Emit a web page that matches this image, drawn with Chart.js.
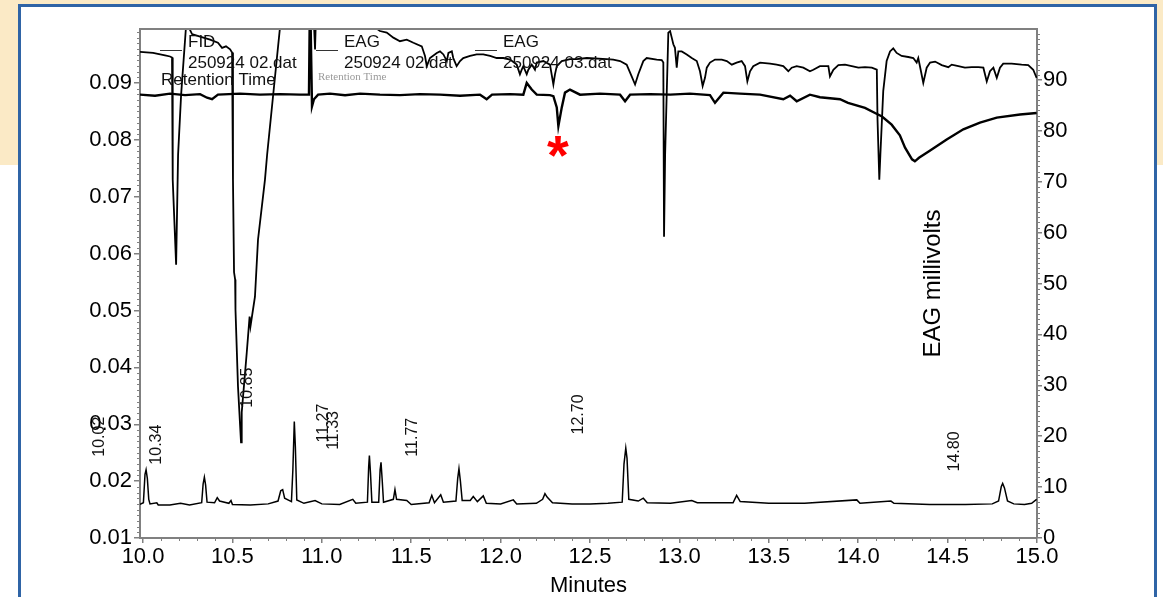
<!DOCTYPE html>
<html>
<head>
<meta charset="utf-8">
<script src="https://cdn.jsdelivr.net/npm/chart.js@4.4.1/dist/chart.umd.min.js"></script>
<style>
  html, body { margin: 0; padding: 0; width: 1163px; height: 597px; overflow: hidden; background: #fff; }
  #fondo { position: absolute; left: 0; top: 0; width: 1163px; height: 165px; background: #fbeac6; }
  #marco { position: absolute; left: 18px; top: 4px; width: 1133px; height: 700px; background: #fff; border: 3px solid #2f64a6; }
  #grafico { position: absolute; left: 0; top: 0; }
</style>
</head>
<body>
<div id="fondo"></div>
<div id="marco"></div>
<canvas id="grafico" width="1163" height="597"></canvas>
<script>
// FID (eje izquierdo)
const fidTime = [9.983, 10.002, 10.011, 10.017, 10.024, 10.032, 10.039, 10.077, 10.085, 10.15, 10.21, 10.26,
  10.328, 10.336, 10.343, 10.350, 10.358, 10.40, 10.415, 10.428, 10.48, 10.492, 10.50, 10.60, 10.70,
  10.755, 10.770, 10.781, 10.792, 10.830, 10.838, 10.846, 10.852, 10.860, 10.90, 10.962, 11.00, 11.10,
  11.173, 11.19, 11.255, 11.262, 11.266, 11.272, 11.280, 11.318, 11.326, 11.331, 11.337, 11.345, 11.40,
  11.409, 11.418, 11.475, 11.50, 11.60, 11.615, 11.63, 11.665, 11.68, 11.75, 11.760, 11.767, 11.775,
  11.785, 11.83, 11.847, 11.87, 11.903, 11.92, 12.00, 12.071, 12.09, 12.20, 12.235, 12.248, 12.26, 12.29,
  12.40, 12.50, 12.60, 12.680, 12.690, 12.700, 12.707, 12.717, 12.77, 12.798, 12.82, 12.95, 13.069, 13.10,
  13.30, 13.320, 13.34, 13.50, 13.70, 13.992, 14.01, 14.183, 14.20, 14.40, 14.60, 14.75, 14.785, 14.800,
  14.808, 14.818, 14.835, 14.87, 14.93, 14.97, 14.998];
const fidSignal = [0.0159, 0.0162, 0.0212, 0.0220, 0.0205, 0.0168, 0.0160, 0.0162, 0.0158, 0.0158, 0.0161, 0.0158,
  0.0162, 0.0195, 0.0207, 0.0193, 0.0163, 0.0162, 0.0171, 0.0165, 0.0161, 0.0166, 0.0159, 0.0158, 0.0160,
  0.0165, 0.0183, 0.0185, 0.0170, 0.0164, 0.0220, 0.0305, 0.0260, 0.0167, 0.0161, 0.0166, 0.0160, 0.0159,
  0.0168, 0.0161, 0.0163, 0.0225, 0.0245, 0.0215, 0.0163, 0.0163, 0.0220, 0.0233, 0.0205, 0.0163, 0.0168,
  0.0185, 0.0168, 0.0166, 0.0159, 0.0162, 0.0175, 0.0162, 0.0176, 0.0163, 0.0165, 0.0205, 0.0222, 0.0200,
  0.0166, 0.0166, 0.0173, 0.0164, 0.0174, 0.0161, 0.0160, 0.0167, 0.0160, 0.0161, 0.0168, 0.0178, 0.0172, 0.0162,
  0.0160, 0.0160, 0.0161, 0.0163, 0.0230, 0.0258, 0.0240, 0.0168, 0.0165, 0.0170, 0.0162, 0.0161, 0.0166, 0.0162,
  0.0162, 0.0175, 0.0164, 0.0161, 0.0161, 0.0167, 0.0161, 0.0165, 0.0161, 0.0159, 0.0159, 0.0160, 0.0165, 0.0190,
  0.0196, 0.0188, 0.0165, 0.0160, 0.0159, 0.0161, 0.0168];

// EAG 250924 02.dat (eje derecho)
const eag02Time = [9.983, 10.056, 10.123, 10.151, 10.162, 10.166, 10.185, 10.196, 10.213, 10.240, 10.252, 10.274,
  10.319, 10.375, 10.419, 10.442, 10.464, 10.487, 10.498, 10.503, 10.509, 10.515, 10.516, 10.518, 10.531,
  10.548, 10.552, 10.580, 10.596, 10.601, 10.626, 10.643, 10.682, 10.694, 10.766, 10.79, 10.95, 10.962,
  10.97, 11.29, 11.298, 11.325, 11.363, 11.400, 11.437, 11.475, 11.512, 11.559, 11.577, 11.587, 11.605,
  11.643, 11.661, 11.680, 11.699, 11.708, 11.727, 11.735, 11.754, 11.773, 11.791, 11.829, 11.866, 11.903,
  11.941, 11.978, 12.015, 12.053, 12.090, 12.108, 12.118, 12.127, 12.146, 12.155, 12.174, 12.192, 12.202,
  12.239, 12.276, 12.295, 12.304, 12.314, 12.342, 12.388, 12.426, 12.482, 12.593, 12.630, 12.668, 12.705,
  12.733, 12.752, 12.770, 12.798, 12.817, 12.873, 12.901, 12.910, 12.914, 12.920, 12.938, 12.948, 12.957,
  12.966, 12.975, 12.985, 12.990, 12.994, 13.013, 13.041, 13.069, 13.097, 13.115, 13.130, 13.143, 13.153,
  13.171, 13.199, 13.237, 13.265, 13.293, 13.320, 13.348, 13.367, 13.380, 13.395, 13.413, 13.451, 13.507,
  13.544, 13.581, 13.609, 13.628, 13.656, 13.693, 13.730, 13.749, 13.786, 13.833, 13.842, 13.861, 13.889,
  13.926, 13.964, 14.001, 14.038, 14.076, 14.104, 14.108, 14.118, 14.124, 14.140, 14.159, 14.178, 14.196,
  14.215, 14.243, 14.280, 14.308, 14.327, 14.336, 14.351, 14.364, 14.383, 14.402, 14.430, 14.467, 14.504,
  14.523, 14.560, 14.597, 14.635, 14.672, 14.700, 14.719, 14.737, 14.756, 14.775, 14.793, 14.811, 14.858,
  14.914, 14.951, 14.979, 14.998];
const eag02Value = [95.5, 95.3, 94.8, 94.6, 94.4, 70.4, 53.7, 75.3, 87.1, 100.3, 100.6, 99.0,
  98.5, 97.9, 97.3, 96.3, 96.6, 96.0, 95.4, 70.4, 52.2, 50.8, 45.5, 44.9, 29.8,
  18.8, 24.7, 36.4, 43.5, 41.6, 47.4, 58.6, 70.4, 75.3, 100.3, 106, 106, 96.0,
  106, 106, 100.3, 99.6, 99.3, 98.3, 97.6, 97.9, 97.3, 96.6, 94.7, 92.7, 94.3,
  95.3, 95.6, 95.0, 93.7, 95.3, 95.6, 94.3, 92.7, 93.7, 94.3, 94.7, 95.0, 95.0,
  94.7, 94.3, 94.3, 94.0, 93.0, 91.1, 92.0, 92.7, 91.1, 92.0, 93.0, 92.0, 93.4,
  93.7, 93.0, 89.1, 91.1, 92.7, 93.7, 94.1, 94.1, 94.3, 94.1, 94.0, 93.7, 93.0,
  90.7, 89.1, 91.1, 93.7, 94.3, 94.0, 93.9, 93.4, 59.2, 75.3, 99.3, 99.6, 98.3,
  97.0, 96.3, 92.4, 94.3, 95.6, 95.6, 95.0, 94.3, 93.7, 91.7, 88.8, 90.4, 92.4,
  93.4, 94.0, 94.0, 93.7, 93.0, 93.4, 93.7, 92.7, 89.7, 91.7, 92.7, 93.4, 93.2,
  93.0, 92.7, 91.7, 92.4, 92.7, 92.4, 91.7, 92.0, 92.7, 92.7, 90.7, 92.0, 92.9,
  93.0, 92.7, 92.4, 92.5, 92.4, 92.0, 82.2, 70.4, 75.3, 87.8, 93.7, 95.6, 96.2,
  95.3, 94.7, 94.5, 94.3, 93.4, 94.3, 91.7, 89.4, 92.4, 93.4, 93.6, 92.9, 92.5,
  93.0, 92.7, 92.4, 92.5, 92.5, 92.4, 89.7, 91.7, 92.4, 90.4, 92.4, 93.2, 93.2,
  93.0, 92.9, 92.0, 90.4];

// EAG 250924 03.dat (eje derecho)
const eag03Time = [9.983, 10.067, 10.151, 10.235, 10.319, 10.358, 10.386, 10.419, 10.543, 10.654, 10.766, 10.878,
  10.928, 10.934, 10.945, 10.956, 10.979, 11.046, 11.130, 11.214, 11.325, 11.437, 11.549, 11.661, 11.773,
  11.885, 11.922, 11.952, 12.053, 12.127, 12.146, 12.174, 12.202, 12.276, 12.295, 12.314, 12.323, 12.342,
  12.360, 12.388, 12.444, 12.556, 12.668, 12.696, 12.724, 12.836, 12.948, 13.059, 13.171, 13.199, 13.246,
  13.339, 13.451, 13.581, 13.619, 13.656, 13.730, 13.786, 13.898, 13.943, 14.038, 14.094, 14.133, 14.187,
  14.233, 14.262, 14.301, 14.317, 14.340, 14.396, 14.495, 14.588, 14.681, 14.775, 14.905, 14.998];
const eag03Value = [87.1, 86.9, 87.3, 87.0, 87.2, 86.5, 86.2, 87.1, 87.3, 87.1, 87.2, 87.1,
  87.1, 108, 84.8, 86.2, 87.1, 87.3, 87.0, 87.3, 87.1, 87.0, 87.2, 87.1, 86.9,
  87.1, 86.2, 87.1, 87.2, 87.1, 89.4, 88.1, 87.1, 87.0, 86.8, 84.6, 80.9, 84.6,
  87.5, 88.1, 87.1, 87.3, 87.1, 85.8, 87.1, 87.2, 87.1, 87.3, 87.0, 85.5, 87.5,
  87.3, 87.1, 86.2, 86.9, 85.8, 87.1, 86.6, 86.2, 85.5, 84.5, 83.5, 82.8, 81.2,
  79.1, 76.7, 74.4, 74.0, 74.7, 76.0, 78.3, 80.3, 81.6, 82.6, 83.2, 83.5];

// ejes
const xTicks = [10.0, 10.5, 11.0, 11.5, 12.0, 12.5, 13.0, 13.5, 14.0, 14.5, 15.0];
const leftTicks = [0.01, 0.02, 0.03, 0.04, 0.05, 0.06, 0.07, 0.08, 0.09];
const rightTicks = [0, 10, 20, 30, 40, 50, 60, 70, 80, 90];

// etiquetas de picos (tiempo y nivel de la base del texto, eje izquierdo)
const peakLabels = ['10.02', '10.34', '10.85', '11.27', '11.33', '11.77', '12.70', '14.80'];
const peakLevels = [0.0243, 0.0229, 0.0329, 0.0268, 0.0255, 0.0243, 0.0282, 0.0217];

// leyenda
const legendNames = ['FID', 'EAG', 'EAG'];
const legendFiles = ['250924 02.dat', '250924 02.dat', '250924 03.dat'];
const legendNotes = ['Retention Time', 'Retention Time', ''];

// asterisco (eje derecho)
const markTimes = [12.32];
const markValues = [77.8];

const fuente = '"Liberation Sans", Arial, sans-serif';
Chart.defaults.font.family = fuente;

const toPoints = (xs, ys) => xs.map((t, i) => ({ x: t, y: ys[i] }));

const extras = {
    id: 'extras',
    afterDraw(chart) {
        const { ctx, chartArea: area, scales } = chart;
        const x = scales.x, yl = scales.y, yr = scales.y2;
        ctx.save();

        // borde superior
        ctx.strokeStyle = '#808080';
        ctx.lineWidth = 2;
        ctx.beginPath();
        ctx.moveTo(area.left - 1, area.top);
        ctx.lineTo(area.right + 1, area.top);
        ctx.stroke();

        // marcas menores
        ctx.lineWidth = 1;
        ctx.beginPath();
        for (let i = 1; i < 50; i++) {
            if (i % 5 === 0) continue;
            const px = Math.round(x.getPixelForValue(10 + i / 10)) + 0.5;
            ctx.moveTo(px, area.bottom);
            ctx.lineTo(px, area.bottom + 3);
        }
        for (let i = 11; i < 100; i++) {
            if (i % 10 === 0) continue;
            const py = Math.round(yl.getPixelForValue(i / 1000)) + 0.5;
            ctx.moveTo(area.left - 3, py);
            ctx.lineTo(area.left, py);
        }
        for (let i = 1; i < 100; i++) {
            if (i % 10 === 0) continue;
            const py = Math.round(yr.getPixelForValue(i)) + 0.5;
            ctx.moveTo(area.right, py);
            ctx.lineTo(area.right + 3, py);
        }
        ctx.stroke();

        // leyenda
        const inicio = [20, 176, 335];
        legendNames.forEach((nombre, i) => {
            const lx = area.left + inicio[i];
            ctx.strokeStyle = '#333';
            ctx.lineWidth = 1;
            ctx.beginPath();
            ctx.moveTo(lx, area.top + 21.5);
            ctx.lineTo(lx + 22, area.top + 21.5);
            ctx.stroke();
            ctx.fillStyle = '#111';
            ctx.textAlign = 'left';
            ctx.textBaseline = 'alphabetic';
            ctx.font = '17px ' + fuente;
            ctx.fillText(nombre, lx + 28, area.top + 18);
            ctx.fillText(legendFiles[i], lx + 28, area.top + 39);
            if (legendNotes[i]) {
                if (i === 0) {
                    ctx.fillText(legendNotes[i], lx + 1, area.top + 56);
                } else {
                    ctx.fillStyle = '#999';
                    ctx.font = '11px "Liberation Serif", "Times New Roman", serif';
                    ctx.fillText(legendNotes[i], lx + 2, area.top + 51);
                }
            }
        });

        // etiquetas de picos
        ctx.fillStyle = '#111';
        ctx.font = '16px ' + fuente;
        ctx.textAlign = 'left';
        ctx.textBaseline = 'middle';
        peakLabels.forEach((txt, i) => {
            const px = x.getPixelForValue(parseFloat(txt)) - 47;
            const py = yl.getPixelForValue(peakLevels[i]);
            ctx.save();
            ctx.translate(px, py);
            ctx.rotate(-Math.PI / 2);
            ctx.fillText(txt, 0, 0);
            ctx.restore();
        });

        // titulo del eje derecho dentro del area
        ctx.save();
        ctx.translate(area.right - 104, (area.top + area.bottom) / 2);
        ctx.rotate(-Math.PI / 2);
        ctx.font = '24px ' + fuente;
        ctx.fillStyle = '#000';
        ctx.textAlign = 'center';
        ctx.textBaseline = 'middle';
        ctx.fillText('EAG millivolts', 0, 0);
        ctx.restore();

        // asterisco
        ctx.fillStyle = '#ff0000';
        ctx.font = 'bold 56px ' + fuente;
        ctx.textAlign = 'center';
        ctx.textBaseline = 'alphabetic';
        markTimes.forEach((t, i) => {
            ctx.fillText('*', x.getPixelForValue(t), yr.getPixelForValue(markValues[i]) + 32);
        });

        ctx.restore();
    }
};

const gris = '#808080';

new Chart(document.getElementById('grafico'), {
    type: 'line',
    data: {
        datasets: [{
            label: 'FID',
            data: toPoints(fidTime, fidSignal),
            yAxisID: 'y',
            borderColor: '#000',
            borderWidth: 1.5,
            pointRadius: 0,
            tension: 0,
            clip: 0
        }, {
            label: 'EAG 250924 02.dat',
            data: toPoints(eag02Time, eag02Value),
            yAxisID: 'y2',
            borderColor: '#000',
            borderWidth: 1.8,
            pointRadius: 0,
            tension: 0,
            clip: 0
        }, {
            label: 'EAG 250924 03.dat',
            data: toPoints(eag03Time, eag03Value),
            yAxisID: 'y2',
            borderColor: '#000',
            borderWidth: 2.4,
            pointRadius: 0,
            tension: 0,
            clip: 0
        }]
    },
    options: {
        responsive: false,
        animation: false,
        devicePixelRatio: 1,
        layout: { padding: { top: 29, left: 0, right: 0, bottom: 0 } },
        plugins: {
            legend: { display: false },
            tooltip: { enabled: false }
        },
        scales: {
            x: {
                type: 'linear',
                position: 'bottom',
                min: 9.983,
                max: 15,
                afterBuildTicks: s => { s.ticks = xTicks.map(v => ({ value: v })); },
                afterFit: s => { s.height = 59; },
                ticks: { color: '#000', font: { size: 22 }, padding: 1, maxRotation: 0, autoSkip: false,
                    callback: v => Number(v).toFixed(1) },
                grid: { drawOnChartArea: false, tickLength: 5, color: gris, lineWidth: 1.5 },
                border: { color: gris, width: 2 },
                title: { display: true, text: 'Minutes', color: '#000', font: { size: 22, lineHeight: 1 }, padding: 0 }
            },
            y: {
                type: 'linear',
                position: 'left',
                min: 0.01,
                max: 0.0995,
                afterBuildTicks: s => { s.ticks = leftTicks.map(v => ({ value: v })); },
                afterFit: s => { s.width = 140; },
                ticks: { color: '#000', font: { size: 22 }, padding: 2,
                    callback: v => Number(v).toFixed(2) },
                grid: { drawOnChartArea: false, tickLength: 6, color: gris, lineWidth: 1.5 },
                border: { color: gris, width: 2 }
            },
            y2: {
                type: 'linear',
                position: 'right',
                min: 0,
                max: 100,
                afterBuildTicks: s => { s.ticks = rightTicks.map(v => ({ value: v })); },
                afterFit: s => { s.width = 126; },
                ticks: { color: '#000', font: { size: 22 }, padding: 1,
                    callback: v => String(v) },
                grid: { drawOnChartArea: false, tickLength: 5, color: gris, lineWidth: 1.5 },
                border: { color: gris, width: 2 }
            }
        }
    },
    plugins: [extras]
});
</script>
</body>
</html>
